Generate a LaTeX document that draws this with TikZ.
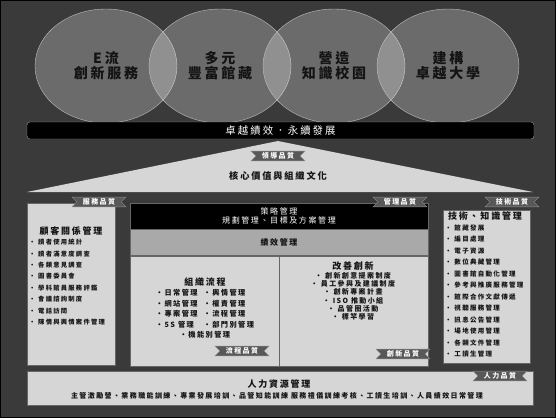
\documentclass[tikz,border=0pt]{standalone}
\usepackage{fontspec}
\setmainfont{Noto Sans CJK TC}[LetterSpace=20]
\usepackage{tikz}
\usetikzlibrary{positioning,shapes.geometric,shapes.symbols}
\definecolor{bgdark}{HTML}{3A3A3A}
\definecolor{panel}{HTML}{D6D6D6}
\definecolor{perfgray}{HTML}{A9A9A9}
\definecolor{ribgray}{HTML}{585858}
\definecolor{inkdark}{HTML}{141414}

\begin{document}
\begin{tikzpicture}[x=1pt, y=-1pt, text=inkdark,
	vision/.style={ellipse, draw=white!75!black, fill=white, fill opacity=0.25, text opacity=1, minimum width=142pt, minimum height=114pt, align=center, font=\fontsize{14}{15}\selectfont\bfseries},
	goalbar/.style={draw=white!60!black, fill=black, rounded corners=3pt, minimum width=507pt, minimum height=17pt, text=white, font=\fontsize{10.4}{11}\selectfont},
	ribbon/.style={signal, signal from=west and east, signal to=nowhere, fill=ribgray, draw=white!55!black, text=white, inner xsep=6pt, inner ysep=1.5pt, font=\fontsize{7}{7}\selectfont\bfseries},
	panelbox/.style={draw=black!60, fill=panel, inner sep=0pt},
	stratbox/.style={draw=black!60, fill=black, minimum width=298pt, minimum height=26pt, text=white, align=center, font=\fontsize{8}{9.5}\selectfont},
	perfbar/.style={draw=black!60, fill=perfgray, minimum width=298pt, minimum height=26pt, font=\fontsize{8}{9}\selectfont\bfseries},
	procbox/.style={draw=black!60, fill=panel, minimum width=149pt, minimum height=110pt},
	title/.style={inner sep=0pt, font=\fontsize{9}{10}\selectfont\bfseries},
	list/.style={anchor=north west, align=left, inner sep=0pt}]
	\fill[bgdark] (0,0) rectangle (556,418);
	\draw[black, line width=1pt] (0.5,0.5) rectangle (555.5,417.5);
	\node[vision] (eflow) at (106,66) {E流\\創新服務};
	\node[vision] (collect) at (220,66) {多元\\豐富館藏};
	\node[vision] (campus) at (334,66) {營造\\知識校園};
	\node[vision] (univ) at (448,66) {建構\\卓越大學};
	\node[goalbar] (goal) at (280.5,130.5) {卓越績效．永續發展};
	\fill[panel] (278,141) -- (533,192) -- (27,192) -- cycle;
	\node[ribbon] (leadq) at (278,156) {領導品質};
	\node[title, font=\fontsize{9.2}{10}\selectfont\bfseries] (core) at (278,176) {核心價值與組織文化};

	\node[panelbox, minimum width=88pt, minimum height=162pt] (crm) at (71,284) {};
	\node[ribbon] (serviceq) at (99,202) {服務品質};
	\node[title] (crmtitle) at (71,231) {顧客關係管理};
	\node[list, font=\fontsize{6.3}{11.4}\selectfont\bfseries] (crmlist) at (29,239) {• 讀者使用統計\\• 讀者滿意度調查\\• 各類意見調查\\• 圖書委員會\\• 學科館員服務評鑑\\• 會議諮詢制度\\• 電話訪問\\• 陳情與輿情案件管理};

	\node[stratbox] (strategy) at (279,216) {策略管理\\規劃管理、目標及方案管理};
	\node[perfbar, below=0pt of strategy] (perf) {績效管理};
	\node[procbox, below right=0pt and 0pt of perf.south west] (process) {};
	\node[procbox, right=0pt of process] (innov) {};
	\node[ribbon] (mgmtq) at (400,202) {管理品質};
	\node[title] (proctitle) at (205,282) {組織流程};
	\node[anchor=north, inner sep=0pt, font=\fontsize{7.2}{10.5}\selectfont\bfseries] (proclist) at (205,288) {\begin{tabular}{@{}l@{\hspace{6pt}}l@{}}‧日常管理 & ‧輿情管理\\ ‧網站管理 & ‧權責管理\\ ‧專案管理 & ‧流程管理\\ ‧5S 管理 & ‧部門別管理\\ \multicolumn{2}{c}{‧機能別管理}\end{tabular}};
	\node[ribbon] (procq) at (242,351) {流程品質};
	\node[title] (innovtitle) at (353,266) {改善創新};
	\node[anchor=north, align=center, inner sep=0pt, font=\fontsize{7}{8.1}\selectfont\bfseries] (innovlist) at (353,272.5) {• 創新創意提案制度\\• 員工參與及建議制度\\• 創新專案計畫\\• ISO 推動小組\\• 品管圈活動\\• 標竿學習};
	\node[ribbon] (innovq) at (403,354) {創新品質};

	\node[panelbox, minimum width=87pt, minimum height=153pt] (km) at (486.5,286.5) {};
	\node[ribbon] (techq) at (512,202) {技術品質};
	\node[title] (kmtitle) at (485,216) {技術、知識管理};
	\node[list, font=\fontsize{6.5}{11.5}\selectfont\bfseries] (kmlist) at (445,224.5) {• 館藏發展\\• 編目處理\\• 電子資源\\• 數位典藏管理\\• 圖書館自動化管理\\• 參考與推廣服務管理\\• 館際合作文獻傳遞\\• 視聽服務管理\\• 訊息公告管理\\• 場地使用管理\\• 各類文件管理\\• 工讀生管理};

	\node[panelbox, minimum width=506pt, minimum height=34pt] (hr) at (280,388) {};
	\node[title] (hrtitle) at (279,384) {人力資源管理};
	\node[font=\fontsize{7}{8}\selectfont\bfseries, inner sep=0pt] (hrline) at (277,396) {主管激勵營、業務職能訓練、專業發展培訓、品管知能訓練 服務禮儀訓練考核、工讀生培訓、人員績效日常管理};
	\node[ribbon] (hrq) at (500,376) {人力品質};
\end{tikzpicture}
\end{document}
